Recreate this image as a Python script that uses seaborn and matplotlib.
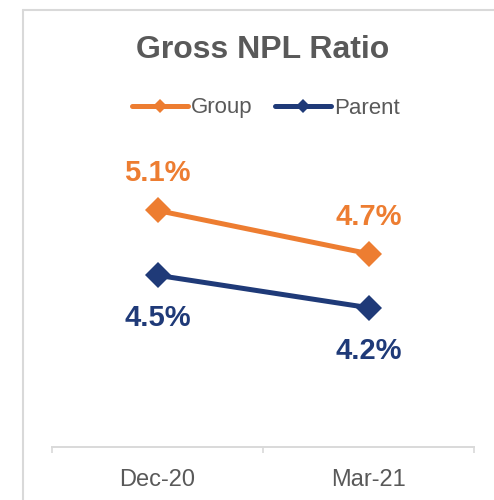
import matplotlib
matplotlib.use("Agg")
import matplotlib.pyplot as plt
from matplotlib.lines import Line2D
import seaborn as sns
import pandas as pd

# Gross non-performing loan ratio, in percent
periods = ["Dec-20", "Mar-21"]
group_ratio = [5.1, 4.7]
parent_ratio = [4.5, 4.2]
series_names = ["Group", "Parent"]

ORANGE = "#ED7D31"
NAVY = "#1F3A78"
GREY_TEXT = "#595959"
GREY_LINE = "#D9D9D9"

sns.set_theme(style="white")
plt.rcParams["font.family"] = ["Liberation Sans", "DejaVu Sans"]

df = pd.DataFrame({
    "period": periods * 2,
    "x": list(range(len(periods))) * 2,
    "ratio": group_ratio + parent_ratio,
    "series": [series_names[0]] * len(periods) + [series_names[1]] * len(periods),
})

fig = plt.figure(figsize=(4.94, 5.0), dpi=100)
ax = fig.add_axes([52 / 494, 53 / 500, (474 - 52) / 494, (350 - 53) / 500])

palette = {series_names[0]: ORANGE, series_names[1]: NAVY}
sns.lineplot(data=df, x="x", y="ratio", hue="series", palette=palette,
             marker="D", markersize=13, markeredgewidth=0, linewidth=3.6,
             legend=False, ax=ax)

# Value labels: group above its points, parent below
for s, vals, color, off in [(series_names[0], group_ratio, ORANGE, -29),
                            (series_names[1], parent_ratio, NAVY, 51)]:
    for i, v in enumerate(vals):
        ax.annotate(f"{v:.1f}%", xy=(i, v), xytext=(0, -off),
                    textcoords="offset pixels", ha="center", va="baseline",
                    fontsize=21, fontweight="bold", color=color)

ax.set_xlim(-0.5, len(periods) - 0.5)
ax.set_ylim(2.91, 5.66)
ax.set_xlabel("")
ax.set_ylabel("")
ax.set_yticks([])
ax.set_xticks(range(len(periods)))
ax.set_xticklabels(periods, fontsize=17, color=GREY_TEXT)
ax.set_xticks([-0.5, 0.5, 1.5], minor=True)
ax.tick_params(axis="x", which="major", length=0, pad=16)
ax.tick_params(axis="x", which="minor", length=4, width=1.2, color=GREY_LINE,
               direction="out", bottom=True)
for side in ["top", "right", "left"]:
    ax.spines[side].set_visible(False)
ax.spines["bottom"].set_color(GREY_LINE)
ax.spines["bottom"].set_linewidth(1.4)

# Legend
handles = [Line2D([], [], color=palette[n], lw=3.6, marker="D", markersize=7,
                  markeredgewidth=0) for n in series_names]
fig.legend(handles, series_names, loc="center", bbox_to_anchor=(266 / 494, 1 - 108 / 500),
           ncol=2, frameon=False, fontsize=16, labelcolor=GREY_TEXT,
           handlelength=2.5, handletextpad=0.15, columnspacing=1.0)

fig.text(263 / 494, 1 - 50 / 500, "Gross NPL Ratio", ha="center", va="center",
         fontsize=23, fontweight="bold", color=GREY_TEXT)

# Panel frame along the top and left edges
fig.add_artist(Line2D([23 / 494, 23 / 494], [0, 1 - 10 / 500], color=GREY_LINE, lw=1.5))
fig.add_artist(Line2D([23 / 494, 1], [1 - 10 / 500, 1 - 10 / 500], color=GREY_LINE, lw=1.5))

fig.savefig("out.png", dpi=100)
